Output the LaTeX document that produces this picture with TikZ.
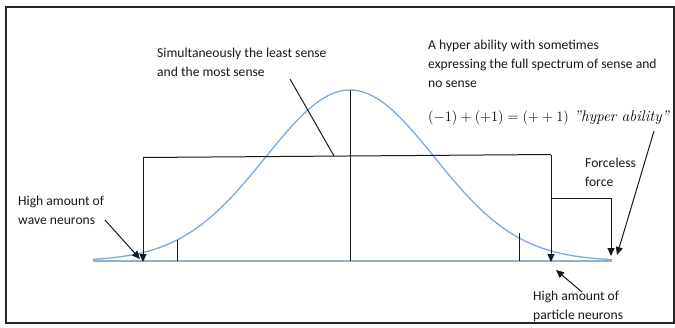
\documentclass[tikz,border=0pt]{standalone}
\usepackage{fontspec}
\newfontfamily\lblfont{Carlito}
\usetikzlibrary{arrows.meta}
\definecolor{curveblue}{RGB}{125,170,215}
\definecolor{basegray}{RGB}{150,175,200}
\definecolor{txtgray}{RGB}{25,25,25}
\tikzset{
  lbl/.style={font=\lblfont\fontsize{13.6}{19}\selectfont, text=txtgray, align=left, anchor=west, inner sep=0pt},
  ln/.style={draw=black!90, line width=1pt},
  arr/.style={ln, -{Triangle[length=8pt,width=7pt]}}
}
\begin{document}
\begin{tikzpicture}[x=1pt,y=-1pt]
\useasboundingbox (0,0) rectangle (675,327);
\fill[white] (0,0) rectangle (675,327);
\draw[line width=2pt, black!85] (6,7) rectangle (674,323);

% points
\coordinate (bl) at (93,261);
\coordinate (br) at (612,261);
\coordinate (pk) at (350,90);
\coordinate (pkb) at (350,261);
\coordinate (htl) at (143,157.5);
\coordinate (htr) at (551,154.5);
\coordinate (tipl) at (143,262);
\coordinate (tipr) at (551,262);
\coordinate (brk) at (551,198);
\coordinate (brkr) at (611,198);
\coordinate (tipf) at (611,256);
\coordinate (tkl) at (177,261);
\coordinate (tklt) at (177,240);
\coordinate (tkr) at (519,261);
\coordinate (tkrt) at (519,233);
\coordinate (dga) at (290,79);
\coordinate (dgb) at (334,156);
\coordinate (ffa) at (654,131);
\coordinate (ffb) at (617,255);
\coordinate (wva) at (105,220);
\coordinate (wvb) at (140,259);
\coordinate (pta) at (582,292);
\coordinate (ptb) at (556,270);

% baseline and curve
\draw[basegray, line width=1.2pt] (bl) -- (br);
\draw[curveblue, line width=1.3pt] plot[domain=93:612, samples=160] (\x, {261-171*exp(-(((\x-350)/100)^2)/1.4272)});

% structure lines
\draw[ln] (pk) -- (pkb);
\draw[ln] (htl) -- (htr);
\draw[arr] (htl) -- (tipl);
\draw[arr] (htr) -- (tipr);
\draw[arr] (brk) -- (brkr) -- (tipf);
\draw[ln] (tkl) -- (tklt);
\draw[ln] (tkr) -- (tkrt);
\draw[ln] (dga) -- (dgb);
\draw[arr] (ffa) -- (ffb);
\draw[arr] (wva) -- (wvb);
\draw[arr] (pta) -- (ptb);

% texts
\node[lbl] (simul) at (157,62.5) {Simultaneously the least sense\\and the most sense};
\node[lbl] (hyper) at (428,64) {A hyper ability with sometimes\\expressing the full spectrum of sense and\\no sense};
\node[anchor=west, inner sep=0pt, text=black, font=\fontsize{15.4}{18}\selectfont] (form) at (428,118) {$(-1)+(+1)=(+\mathbin{+}1)$ \textit{"hyper ability"}};
\node[lbl] (forceless) at (585,172.5) {Forceless\\force};
\node[lbl] (wave) at (18,210.5) {High amount of\\wave neurons};
\node[lbl] (particle) at (533,306) {High amount of\\particle neurons};
\end{tikzpicture}
\end{document}
